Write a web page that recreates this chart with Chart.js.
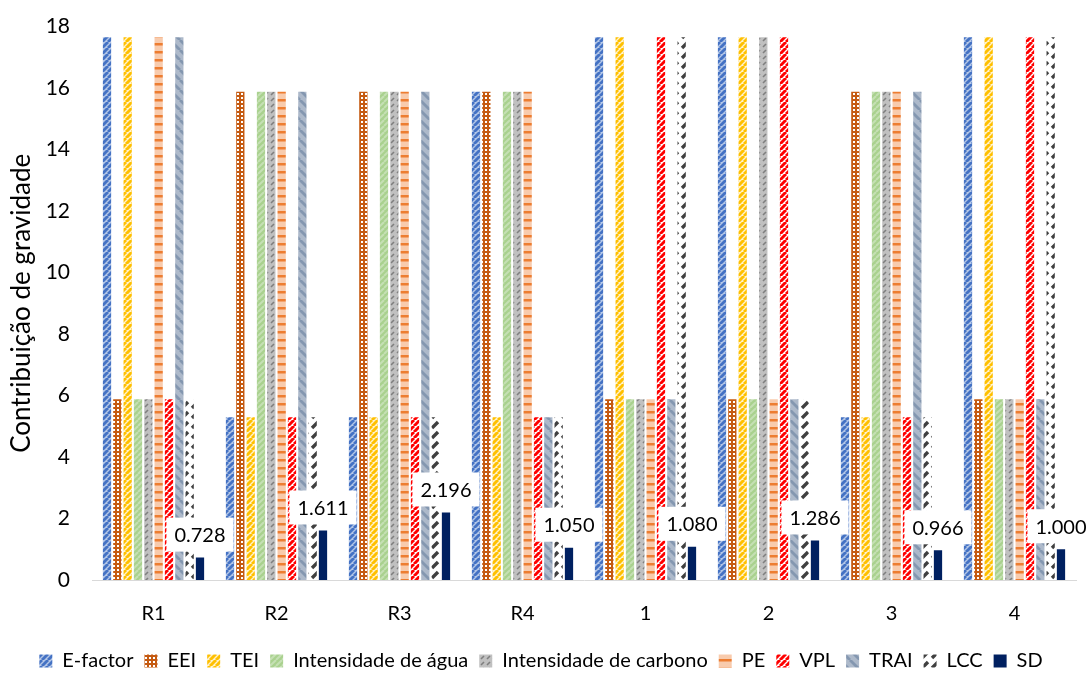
<!DOCTYPE html>
<html>
<head>
<meta charset="utf-8">
<script src="https://cdn.jsdelivr.net/npm/chart.js@4.4.1/dist/chart.umd.min.js"></script>
<style>
  html, body { margin: 0; padding: 0; background: #ffffff; }
  #wrap { width: 1088px; height: 675px; position: relative; }
</style>
</head>
<body>
<div id="wrap"><canvas id="c"></canvas></div>
<script>
// Categories and series values
const categories = ['R1', 'R2', 'R3', 'R4', '1', '2', '3', '4'];
const eFactor  = [17.65, 5.29, 5.29, 15.88, 17.65, 17.65, 5.29, 17.65];
const eei      = [5.88, 15.88, 15.88, 15.88, 5.88, 5.88, 15.88, 5.88];
const tei      = [17.65, 5.29, 5.29, 5.29, 17.65, 17.65, 5.29, 17.65];
const agua     = [5.88, 15.88, 15.88, 15.88, 5.88, 5.88, 15.88, 5.88];
const carbono  = [5.88, 15.88, 15.88, 15.88, 5.88, 17.65, 15.88, 5.88];
const pe       = [17.65, 15.88, 15.88, 15.88, 5.88, 5.88, 15.88, 5.88];
const vpl      = [5.88, 5.29, 5.29, 5.29, 17.65, 17.65, 5.29, 17.65];
const trai     = [17.65, 15.88, 15.88, 5.29, 5.88, 5.88, 15.88, 5.88];
const lcc      = [5.88, 5.29, 5.29, 5.29, 17.65, 5.88, 5.29, 17.65];
const sd       = [0.728, 1.611, 2.196, 1.050, 1.080, 1.286, 0.966, 1.000];
const yTicks   = [0, 2, 4, 6, 8, 10, 12, 14, 16, 18];
const seriesNames = ['E-factor', 'EEI', 'TEI', 'Intensidade de água', 'Intensidade de carbono',
                     'PE', 'VPL', 'TRAI', 'LCC', 'SD'];

const FONT = 'Lato, "Open Sans", "Noto Sans", sans-serif';
const canvas = document.getElementById('c');
const ctx = canvas.getContext('2d');

// ---- fill patterns ----
function makeTile(size, bg, draw) {
  const t = document.createElement('canvas');
  t.width = size; t.height = size;
  const g = t.getContext('2d');
  if (bg) { g.fillStyle = bg; g.fillRect(0, 0, size, size); }
  draw(g, size);
  return ctx.createPattern(t, 'repeat');
}
function upDiag(color, width) {
  return function (g, s) {
    g.strokeStyle = color; g.lineWidth = width; g.lineCap = 'butt';
    for (let k = -s; k <= s; k += s) {
      g.beginPath(); g.moveTo(k, s); g.lineTo(k + s, 0); g.stroke();
    }
  };
}
function downDiag(color, width) {
  return function (g, s) {
    g.strokeStyle = color; g.lineWidth = width;
    for (let k = -s; k <= s; k += s) {
      g.beginPath(); g.moveTo(k, 0); g.lineTo(k + s, s); g.stroke();
    }
  };
}

const patEFactor = makeTile(6, '#b4c7e7', upDiag('#4472c4', 2.8));
const patEEI = makeTile(4, '#c55a11', function (g) {
  g.fillStyle = '#ffffff'; g.fillRect(1, 1, 2, 2);
});
const patTEI = makeTile(6, '#fff2cc', upDiag('#ffc000', 3));
const patAgua = makeTile(6, '#a9d18e', upDiag('#c5e0b4', 2));
const patCarbono = makeTile(6, '#c0c0c0', function (g) {
  g.strokeStyle = '#7f7f7f'; g.lineWidth = 1.6;
  g.beginPath(); g.moveTo(1, 5); g.lineTo(4, 2); g.stroke();
});
const patPE = makeTile(8, '#f8cbad', function (g, s) {
  g.fillStyle = '#ed7d31'; g.fillRect(0, 3, s, 2.5);
});
const patVPL = makeTile(6, '#ffffff', upDiag('#ff0000', 3));
const patTRAI = makeTile(10, '#adb9ca', downDiag('#8497b0', 2.8));
const patLCC = makeTile(10, '#ffffff', function (g) {
  g.strokeStyle = '#404040'; g.lineWidth = 3.4;
  g.beginPath(); g.moveTo(2, 8); g.lineTo(8, 2); g.stroke();
});
const colSD = '#002060';

const fills = [patEFactor, patEEI, patTEI, patAgua, patCarbono, patPE, patVPL, patTRAI, patLCC, colSD];
const values = [eFactor, eei, tei, agua, carbono, pe, vpl, trai, lcc, sd];

const datasets = seriesNames.map(function (name, i) {
  return {
    label: name,
    data: values[i],
    backgroundColor: fills[i],
    borderWidth: 0,
    categoryPercentage: 0.84,
    barPercentage: 0.8
  };
});

// Value boxes above the SD bars
const sdLabels = {
  id: 'sdLabels',
  afterDatasetsDraw(chart) {
    const idx = seriesNames.indexOf('SD');
    const meta = chart.getDatasetMeta(idx);
    const c = chart.ctx;
    c.save();
    c.font = '20px ' + FONT;
    c.textAlign = 'center';
    c.textBaseline = 'middle';
    meta.data.forEach(function (bar, j) {
      const txt = sd[j].toFixed(3);
      const cx = bar.x;
      const cy = bar.y - 23;
      const w = c.measureText(txt).width + 16;
      const h = 34;
      c.fillStyle = '#ffffff';
      c.fillRect(cx - w / 2, cy - h / 2, w, h);
      c.fillStyle = '#000000';
      c.fillText(txt, cx, cy + 1);
    });
    c.restore();
  }
};

new Chart(ctx, {
  type: 'bar',
  data: { labels: categories, datasets: datasets },
  plugins: [sdLabels],
  options: {
    responsive: true,
    maintainAspectRatio: false,
    animation: false,
    layout: { padding: { left: 6, right: 12, top: 18, bottom: -6 } },
    plugins: {
      tooltip: { enabled: false },
      legend: {
        position: 'bottom',
        labels: {
          boxWidth: 13, boxHeight: 13, padding: 11,
          color: '#000000',
          font: { family: FONT, size: 20 }
        }
      }
    },
    scales: {
      x: {
        grid: { display: false },
        border: { display: true, color: '#d9d9d9', width: 1 },
        ticks: { color: '#000000', font: { family: FONT, size: 20, lineHeight: 1.5 }, padding: 11 }
      },
      y: {
        min: 0, max: 18,
        afterBuildTicks(scale) { scale.ticks = yTicks.map(function (v) { return { value: v }; }); },
        afterFit(scale) { scale.width = 86; },
        grid: { display: false },
        border: { display: false },
        ticks: { color: '#000000', font: { family: FONT, size: 21 }, padding: 14 },
        title: {
          display: true,
          text: 'Contribuição de gravidade',
          color: '#000000',
          font: { family: FONT, size: 26 },
          padding: { top: 0, bottom: 1 }
        }
      }
    }
  }
});
</script>
</body>
</html>
